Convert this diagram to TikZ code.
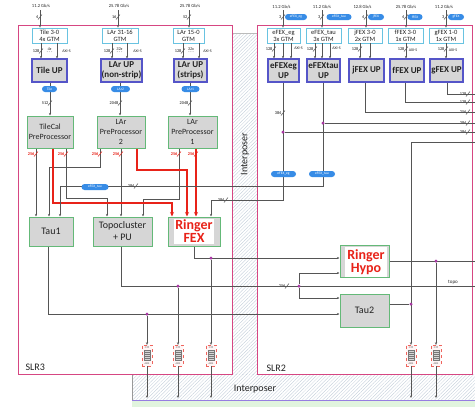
\documentclass[tikz,border=0pt]{standalone}
\usepackage{fontspec}
\setmainfont{Carlito}
\usetikzlibrary{arrows.meta,patterns.meta}
\definecolor{slrc}{RGB}{214,70,130}
\definecolor{hatchc}{RGB}{190,202,215}
\definecolor{gtmc}{RGB}{105,195,225}
\definecolor{upc}{RGB}{85,85,200}
\definecolor{grnc}{RGB}{100,185,120}
\definecolor{boxc}{RGB}{214,214,214}
\definecolor{pillc}{RGB}{55,140,230}
\definecolor{redc}{RGB}{232,35,25}
\definecolor{dotc}{RGB}{170,55,165}
\definecolor{lnc}{RGB}{85,85,85}
\definecolor{txtc}{RGB}{35,35,35}
\definecolor{basec}{RGB}{150,125,225}
\definecolor{grdot}{RGB}{120,205,110}
\newcommand\busmark[4][lnc]{%
  \draw[#1,line width=0.5pt] (#2-2,#3+2.5) -- (#2+2,#3-2.5);
  \node[bw,text=#1,anchor=east] at (#2-1,#3) {#4};}
\begin{document}
\begin{tikzpicture}[x=1pt,y=-1pt,
  every node/.style={text=txtc},
  gtm/.style={draw=gtmc,line width=0.8pt,fill=white,inner sep=0pt,align=center,font=\fontsize{6.5}{7}\selectfont},
  up/.style={draw=upc,line width=1.1pt,fill=boxc,inner sep=0pt,align=center,font=\bfseries\fontsize{9}{10.5}\selectfont},
  pp/.style={draw=grnc,line width=1pt,fill=boxc,inner sep=0pt,align=center,font=\fontsize{8}{10}\selectfont},
  proc/.style={draw=grnc,line width=1pt,fill=boxc,inner sep=0pt,align=center,font=\fontsize{10}{12}\selectfont},
  ringer/.style={font=\bfseries\fontsize{14}{13}\selectfont,text=redc,fill=white,inner sep=1pt,align=center},
  pill/.style={fill=pillc,rounded corners=3pt,text=white,font=\fontsize{3.6}{4}\selectfont,inner sep=0pt,minimum height=6pt},
  ln/.style={draw=lnc,line width=0.55pt},
  arr/.style={ln,-{Stealth[length=2.6pt,width=2.2pt]}},
  rarr/.style={draw=redc,line width=1.3pt,-{Stealth[length=4.5pt,width=4pt]}},
  dot/.style={circle,fill=dotc,inner sep=0pt,minimum size=3pt},
  spd/.style={font=\fontsize{4.6}{5}\selectfont},
  bw/.style={font=\bfseries\fontsize{4.3}{5}\selectfont,inner sep=0.4pt},
  axi/.style={font=\fontsize{4}{5}\selectfont,inner sep=0pt},
  itl/.style={font=\itshape\fontsize{4.2}{5}\selectfont,inner sep=0pt},
  fifo/.style={draw=redc!70,dashed,line width=0.3pt,fill=red!4,minimum width=10pt,minimum height=21pt,inner sep=0pt,
    path picture={
      \foreach \k in {0,...,4}{\draw[solid,draw=lnc!80,fill=boxc,line width=0.25pt] ([xshift=2pt,yshift=5.5pt+\k*2pt]path picture bounding box.south west) rectangle ++(6pt,2pt);}
      \node[font=\fontsize{2.6}{3}\selectfont,text=lnc,inner sep=0pt] at ([yshift=-2.3pt]path picture bounding box.north) {GTP};
      \node[font=\fontsize{2.6}{3}\selectfont,text=lnc,inner sep=0pt] at ([yshift=2.3pt]path picture bounding box.south) {AXIS};
    }}
]
\useasboundingbox (0,0) rectangle (475,407);
\fill[white] (0,0) rectangle (475,407);
% interposer regions
\fill[pattern={Lines[angle=45,distance=2.4pt,line width=0.3pt]},pattern color=hatchc] (232,33) rectangle (257,374);
\fill[pattern={Lines[angle=45,distance=2.4pt,line width=0.3pt]},pattern color=hatchc] (132,374) rectangle (475,400);
\draw[lnc!40,line width=0.4pt] (232,33) -- (257,33);
\draw[lnc!60,line width=0.4pt] (132,374) -- (132,400);
\fill[grdot!15] (132,400) rectangle (475,407);
\fill[pattern={Dots[distance=2pt,radius=0.45pt]},pattern color=grdot] (132,400) rectangle (475,407);
\draw[basec,line width=1pt] (132,400) -- (475,400);
\node[font=\fontsize{10}{12}\selectfont] (ipH) at (255,389) {Interposer};
\node[rotate=90,font=\fontsize{10}{12}\selectfont] (ipV) at (245,154) {Interposer};
% SLR boxes
\draw[slrc,line width=1pt] (18,25) rectangle (232,374);
\draw[slrc,line width=1pt] (257,25) rectangle (472,374);
\node[font=\fontsize{10}{12}\selectfont,anchor=west] (slr3) at (22,367) {SLR3};
\node[font=\fontsize{10}{12}\selectfont,anchor=west] (slr2) at (263,368) {SLR2};

% ---------- SLR3 nodes
\node[gtm,minimum width=35pt,minimum height=15pt] (gtmTile) at (49.5,35.5) {Tile 3-0\\4x GTM};
\node[gtm,minimum width=36pt,minimum height=15pt] (gtmLar2) at (120,35.5) {LAr 31-16\\GTM};
\node[gtm,minimum width=31pt,minimum height=15pt] (gtmLar1) at (188.5,35.5) {LAr 15-0\\GTM};
\node[up,minimum width=35pt,minimum height=23pt] (upTile) at (49.5,70.5) {Tile UP};
\node[up,minimum width=41pt,minimum height=23pt] (upLar2) at (121.5,70.5) {LAr UP\\(non-strip)};
\node[up,minimum width=33pt,minimum height=23pt] (upLar1) at (190.5,70.5) {LAr UP\\(strips)};
\node[pp,minimum width=46pt,minimum height=32pt] (ppTile) at (50,132) {TileCal\\PreProcessor};
\node[pp,minimum width=48pt,minimum height=32pt] (ppLar2) at (121,132) {LAr\\PreProcessor\\2};
\node[pp,minimum width=49pt,minimum height=32pt] (ppLar1) at (192.5,132) {LAr\\PreProcessor\\1};
\node[proc,minimum width=44pt,minimum height=29pt] (tau1) at (51,231.5) {Tau1};
\node[proc,minimum width=59pt,minimum height=29pt] (topo) at (122.5,231.5) {Topocluster\\+ PU};
\node[proc,minimum width=52pt,minimum height=29pt] (rfex) at (194,231.5) {};
\node[ringer] (rfexT) at (rfex) {Ringer\\FEX};
% ---------- SLR2 nodes
\node[gtm,minimum width=33pt,minimum height=15pt] (gtmEg) at (283.5,35.5) {eFEX\_eg\\3x GTM};
\node[gtm,minimum width=35pt,minimum height=15pt] (gtmTau) at (323.5,35.5) {eFEX\_tau\\3x GTM};
\node[gtm,minimum width=34pt,minimum height=15pt] (gtmJ) at (365,35.5) {jFEX 3-0\\2x GTM};
\node[gtm,minimum width=35pt,minimum height=15pt] (gtmF) at (405.5,35.5) {fFEX 3-0\\1x GTM};
\node[gtm,minimum width=34pt,minimum height=15pt] (gtmG) at (446,35.5) {gFEX 1-0\\1x GTM};
\node[up,minimum width=31pt,minimum height=23pt] (upEg) at (283.5,70.5) {eFEXeg\\UP};
\node[up,minimum width=33pt,minimum height=23pt] (upTau) at (323.5,70.5) {eFEXtau\\UP};
\node[up,minimum width=35pt,minimum height=23pt] (upJ) at (366.5,70.5) {jFEX UP};
\node[up,minimum width=34pt,minimum height=23pt] (upF) at (407,70.5) {fFEX UP};
\node[up,minimum width=33pt,minimum height=23pt] (upG) at (446.5,70.5) {gFEX UP};
\node[proc,minimum width=49pt,minimum height=32pt] (rHypo) at (364.5,261) {};
\node[ringer,minimum width=42pt,minimum height=30pt] (rHypoT) at (366,262) {Ringer\\Hypo};
\node[proc,minimum width=49pt,minimum height=33pt] (tau2) at (364.5,310.5) {Tau2};
% FIFOs
\node[fifo] (f1) at (147,355.5) {};
\node[fifo] (f2) at (178,355.5) {};
\node[fifo] (f3) at (211,355.5) {};
\node[fifo] (f4) at (411,355.5) {};
\node[fifo] (f5) at (436,355.5) {};

% ---------- SLR3 inputs
\coordinate (iTile) at (40,10); \coordinate (iLar2) at (118,10); \coordinate (iLar1) at (189,10);
\draw[arr] (iTile) -- (iTile |- gtmTile.north);
\draw[arr] (iLar2) -- (iLar2 |- gtmLar2.north);
\draw[arr] (iLar1) -- (iLar1 |- gtmLar1.north);
\node[spd] at (41,6) {11.2 Gb/s};
\node[spd] at (119,6) {25.78 Gb/s};
\node[spd] at (190,6) {25.78 Gb/s};
\busmark{40}{17}{4}\busmark{118}{17}{16}\busmark{189}{17}{52}
% GTM -> UP
\draw[arr] (41,0 |- gtmTile.south) -- (41,0 |- upTile.north);
\draw[arr] (57,0 |- gtmTile.south) -- (57,0 |- upTile.north);
\draw[arr] (112,0 |- gtmLar2.south) -- (112,0 |- upLar2.north);
\draw[arr] (127,0 |- gtmLar2.south) -- (127,0 |- upLar2.north);
\draw[arr] (183,0 |- gtmLar1.south) -- (183,0 |- upLar1.north);
\draw[arr] (199,0 |- gtmLar1.south) -- (199,0 |- upLar1.north);
\busmark{41}{51}{128}\busmark{112}{51}{128}\busmark{183}{51}{128}
\node[itl] at (49.5,49) {4x}; \node[axi] at (49.5,53) {- - -};
\node[itl] at (119.5,49) {32x}; \node[axi] at (119.5,53) {- - -};
\node[itl] at (191,49) {32x}; \node[axi] at (191,53) {- - -};
\node[axi] at (66.5,51) {AXI-S};
\node[axi] at (137.5,51) {AXI-S};
\node[axi] at (207.5,51) {AXI-S};
% UP -> PP
\draw[arr] (50,0 |- upTile.south) -- (50,0 |- ppTile.north);
\draw[arr] (120,0 |- upLar2.south) -- (120,0 |- ppLar2.north);
\draw[arr] (190,0 |- upLar1.south) -- (190,0 |- ppLar1.north);
\node[pill,minimum width=15pt] at (49.5,89) {Tile};
\node[pill,minimum width=19pt] at (120.5,89) {LAr2};
\node[pill,minimum width=18pt] at (190.5,89) {LAr1};
\busmark{50}{103}{512}\busmark{120}{103}{2048}\busmark{190}{103}{2048}
% PP -> processors
\draw[arr] (36,0 |- ppTile.south) -- (36,0 |- tau1.north);
\draw[arr] (66,0 |- ppTile.south) |- (107,198) -- (107,0 |- topo.north);
\draw[arr] (100,0 |- ppLar2.south) |- (49,167) -- (49,0 |- tau1.north);
\draw[arr] (121,0 |- ppLar2.south) -- (121,0 |- topo.north);
\draw[arr] (179,0 |- ppLar1.south) |- (143,199) -- (143,0 |- topo.north);
\draw[rarr] (53,0 |- ppTile.south) |- (172,203) -- (172,0 |- rfex.north);
\draw[rarr] (137,0 |- ppLar2.south) |- (187,170) -- (187,0 |- rfex.north);
\draw[rarr] (196,0 |- ppLar1.south) -- (196,0 |- rfex.north);
\busmark[redc]{36}{154}{256}\busmark[redc]{66}{154}{256}\busmark[redc]{100}{154}{256}
\busmark[redc]{121}{154}{256}\busmark[redc]{179}{154}{256}\busmark[redc]{196}{154}{256}

% ---------- SLR2 inputs
\coordinate (iEg) at (283,10); \coordinate (iTau) at (322,10); \coordinate (iJ) at (366,10);
\coordinate (iF) at (406,10); \coordinate (iG) at (446,10);
\draw[arr] (iEg) -- (iEg |- gtmEg.north);
\draw[arr] (iTau) -- (iTau |- gtmTau.north);
\draw[arr] (iJ) -- (iJ |- gtmJ.north);
\draw[arr] (iF) -- (iF |- gtmF.north);
\draw[arr] (iG) -- (iG |- gtmG.north);
\node[spd] at (281.5,7) {11.2 Gb/s};
\node[spd] at (322,7) {11.2 Gb/s};
\node[spd] at (362.5,7) {12.8 Gb/s};
\node[spd] at (406,7) {25.78 Gb/s};
\node[spd] at (444,7) {11.2 Gb/s};
\busmark{283}{17}{3}\busmark{322}{17}{3}\busmark{366}{17}{4}\busmark{406}{17}{4}\busmark{446}{17}{3}
\node[pill,minimum width=22pt] at (296,17) {eFEX\_eg};
\node[pill,minimum width=25pt] at (339,17) {eFEX\_tau};
\node[pill,minimum width=16pt] at (376,17) {jFEX};
\node[pill,minimum width=15pt] at (415,17) {fFEX};
\node[pill,minimum width=16pt] at (456,17) {gFEX};
% GTM -> UP
\foreach \xx in {274,283,291}{\draw[arr] (\xx,0 |- gtmEg.south) -- (\xx,0 |- upEg.north);}
\foreach \xx in {315,322,330}{\draw[arr] (\xx,0 |- gtmTau.south) -- (\xx,0 |- upTau.north);}
\foreach \xx in {360,370}{\draw[arr] (\xx,0 |- gtmJ.south) -- (\xx,0 |- upJ.north);}
\draw[arr] (406,0 |- gtmF.south) -- (406,0 |- upF.north);
\draw[arr] (446,0 |- gtmG.south) -- (446,0 |- upG.north);
\busmark{274}{49}{128}\busmark{315}{49}{128}\busmark{360}{49}{128}\busmark{406}{49}{128}\busmark{446}{49}{128}
\node[axi] at (298.5,48) {AXI-S};
\node[axi] at (336.5,48) {AXI-S};
\node[axi] at (413,50) {AXI-S};
\node[axi] at (453,50) {AXI-S};
% UP outputs
\node[dot] (dEg) at (283,132) {};
\node[dot] (dTau) at (323,123) {};
\coordinate (oEg) at (475,132); \coordinate (oTau) at (475,123);
\coordinate (oJ) at (475,112); \coordinate (oF) at (475,102); \coordinate (oG) at (475,94);
\draw[arr] (283,0 |- upEg.south) |- (211,200) -- (211,0 |- rfex.north);
\draw[arr] (323,0 |- upTau.south) |- (60,186) -- (60,0 |- tau1.north);
\draw[ln] (dEg) -- (oEg);
\draw[ln] (dTau) -- (oTau);
\draw[ln] (365,0 |- upJ.south) |- (oJ);
\draw[ln] (405,0 |- upF.south) |- (oF);
\draw[ln] (447,0 |- upG.south) |- (oG);
\busmark{283}{113}{384}\busmark{226}{200}{384}\busmark{136}{186}{384}
\busmark{468}{132}{384}\busmark{468}{123}{384}\busmark{468}{112}{256}\busmark{468}{102}{128}\busmark{468}{94}{128}
\node[pill,minimum width=25pt] at (283.5,174) {eFEX\_eg};
\node[pill,minimum width=26pt] at (322,174) {eFEX\_tau};
\node[pill,minimum width=27pt] at (95,187) {eFEX\_tau};

% ---------- lower part
\node[dot] (dR) at (211,258) {};
\node[dot] (dTopoA) at (178,286) {};
\node[dot] (dTopoB) at (299,286) {};
\node[dot] (dTau1) at (147,314) {};
\node[dot] (dHyp) at (436,261) {};
\node[dot] (dTau2) at (411,304) {};
\coordinate (oTopo) at (475,286); \coordinate (oHyp) at (475,261); \coordinate (iRight) at (475,142);
\draw[arr] (194,0 |- rfex.south) |- (rHypo.west |- 0,258);
\draw[ln] (121,0 |- topo.south) |- (oTopo);
\draw[arr] (dTopoB) |- (rHypo.west |- 0,273);
\draw[arr] (dTopoB) |- (tau2.west |- 0,298);
\draw[arr] (48,0 |- tau1.south) |- (tau2.west |- 0,314);
\draw[ln] (rHypo.east) -- (oHyp);
\draw[ln] (tau2.east |- 0,304) -- (dTau2);
\draw[arr] (iRight) -| (f4.north);
\draw[arr] (dR) -- (f3.north);
\draw[arr] (dTopoA) -- (f2.north);
\draw[arr] (dTau1) -- (f1.north);
\draw[arr] (dHyp) -- (f5.north);
\node[dot] at (dR) {}; \node[dot] at (dTopoA) {}; \node[dot] at (dTopoB) {};
\node[dot] at (dTau1) {}; \node[dot] at (dHyp) {}; \node[dot] at (dTau2) {};
\node[dot] at (dEg) {}; \node[dot] at (dTau) {};
\busmark{287}{286}{256}
\node[font=\fontsize{5}{6}\selectfont] (topoLbl) at (453,282) {topo};
\foreach \f in {f1,f2,f3,f4,f5}{\draw[arr] (\f.south) -- (\f.south |- 0,398);}
\end{tikzpicture}
\end{document}
